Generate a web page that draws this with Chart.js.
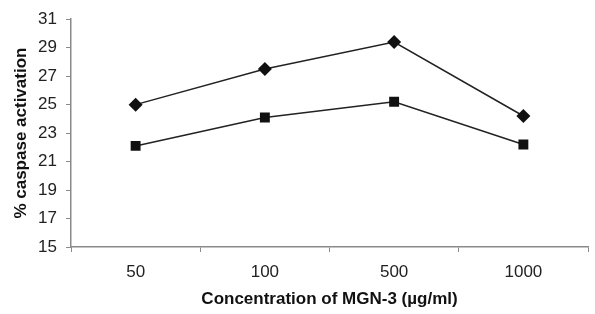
<!DOCTYPE html>
<html>
<head>
<meta charset="utf-8">
<script src="https://cdn.jsdelivr.net/npm/chart.js@4/dist/chart.umd.min.js"></script>
<style>
html,body{margin:0;padding:0;background:#fff;overflow:hidden;}
#wrap{width:595px;height:314px;position:relative;}
</style>
</head>
<body>
<div id="wrap"><canvas id="c" width="595" height="314"></canvas></div>
<script>
const categories = ['50', '100', '500', '1000'];
const seriesDiamond = [25.0, 27.5, 29.4, 24.2];
const seriesSquare = [22.1, 24.1, 25.2, 22.2];
const yTicks = [15, 17, 19, 21, 23, 25, 27, 29, 31];

const axisColor = '#8a8a8a';
const fam = '"Liberation Sans", Arial, sans-serif';
const tickFont = {family: fam, size: 17};
const titleFont = {family: fam, size: 17, weight: 'bold'};

new Chart(document.getElementById('c'), {
  type: 'line',
  data: {
    labels: categories,
    datasets: [
      {data: seriesDiamond, borderColor: '#222', borderWidth: 1.5, pointStyle: 'rectRot', pointRadius: 7, pointBackgroundColor: '#111', pointBorderColor: '#111', pointBorderWidth: 0, tension: 0},
      {data: seriesSquare, borderColor: '#222', borderWidth: 1.5, pointStyle: 'rect', pointRadius: 7, pointBackgroundColor: '#111', pointBorderColor: '#111', pointBorderWidth: 0, tension: 0}
    ]
  },
  options: {
    responsive: false,
    animation: false,
    layout: {padding: {top: 19, right: 0, left: 0, bottom: 0}},
    plugins: {legend: {display: false}, tooltip: {enabled: false}},
    scales: {
      x: {
        offset: true,
        grid: {offset: true, drawOnChartArea: false, drawTicks: true, tickLength: 5, color: axisColor, lineWidth: 1},
        border: {color: axisColor, width: 1.5},
        ticks: {color: '#222', font: tickFont, padding: 10},
        title: {display: true, text: 'Concentration of MGN-3 (µg/ml)', color: '#111', font: titleFont, padding: {top: 0, bottom: 4}},
        afterFit: s => { s.height = 67; }
      },
      y: {
        min: 15, max: 31,
        afterBuildTicks: s => { s.ticks = yTicks.map(v => ({value: v})); },
        grid: {drawOnChartArea: false, drawTicks: true, tickLength: 5, color: axisColor, lineWidth: 1},
        border: {color: axisColor, width: 1.5},
        ticks: {color: '#222', font: tickFont, padding: 9},
        title: {display: true, text: '% caspase activation', color: '#111', font: titleFont, padding: {top: 11, bottom: 0}},
        afterFit: s => { s.width = 71; }
      }
    }
  }
});
</script>
</body>
</html>
